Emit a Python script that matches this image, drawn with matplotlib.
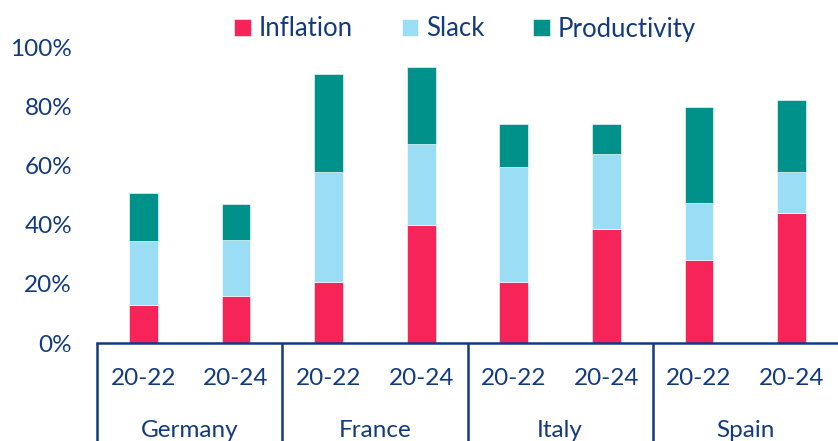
import matplotlib
matplotlib.use("Agg")
import matplotlib.pyplot as plt
import numpy as np

countries = ["Germany", "France", "Italy", "Spain"]
periods = ["20-22", "20-24"]

inflation = [13, 16, 20.6, 40, 20.6, 38.5, 28, 44]
slack = [21.5, 18.8, 37.2, 27.2, 38.9, 25.4, 19.3, 13.8]
productivity = [16.2, 12.2, 33.1, 26, 14.5, 10.1, 32.4, 24.2]

pink = "#F72459"
light_blue = "#9ADDF5"
teal = "#00918A"
navy = "#123A80"

plt.rcParams["font.family"] = ["Lato", "DejaVu Sans"]
plt.rcParams["font.size"] = 17

fig = plt.figure(figsize=(8.38, 4.41), dpi=100)
ax = fig.add_axes([97 / 838, 98 / 441, 741 / 838, 296 / 441])

x = np.arange(len(inflation))
bottom2 = np.array(inflation)
bottom3 = bottom2 + np.array(slack)

ax.bar(x, inflation, width=0.31, color=pink, edgecolor="white", linewidth=0.4, label="Inflation")
ax.bar(x, slack, width=0.31, bottom=bottom2, color=light_blue, edgecolor="white", linewidth=0.4, label="Slack")
ax.bar(x, productivity, width=0.31, bottom=bottom3, color=teal, edgecolor="white", linewidth=0.4, label="Productivity")

ax.set_xlim(-0.5, 7.5)
ax.set_ylim(0, 100)
ax.set_yticks([0, 20, 40, 60, 80, 100])
ax.set_yticklabels([f"{v}%" for v in [0, 20, 40, 60, 80, 100]])
ax.tick_params(axis="y", length=0, pad=18, colors=navy, labelsize=17.5)

ax.set_xticks(x)
ax.set_xticklabels(periods * len(countries))
ax.tick_params(axis="x", length=0, pad=18, colors=navy, labelsize=17.5)

for side in ["left", "right", "top"]:
    ax.spines[side].set_visible(False)
ax.spines["bottom"].set_color(navy)
ax.spines["bottom"].set_linewidth(1.8)

trans = ax.get_xaxis_transform()
for i, c in enumerate(countries):
    ax.text(2 * i + 0.5, -0.295, c, transform=trans, ha="center", va="center",
            color=navy, fontsize=17.5, clip_on=False)
for b in [-0.5, 1.5, 3.5, 5.5]:
    ax.plot([b, b], [0, -0.4], transform=trans, color=navy, linewidth=1.8,
            clip_on=False, solid_capstyle="butt")

handles, labels = ax.get_legend_handles_labels()
leg = fig.legend(handles, labels, loc="center", ncol=3,
                 bbox_to_anchor=(465 / 838, 1 - 29 / 441), frameon=False,
                 handlelength=0.65, handleheight=0.65, handletextpad=0.3,
                 columnspacing=1.9, fontsize=18.5)
for t in leg.get_texts():
    t.set_color(navy)

fig.savefig("out.png", dpi=100)
